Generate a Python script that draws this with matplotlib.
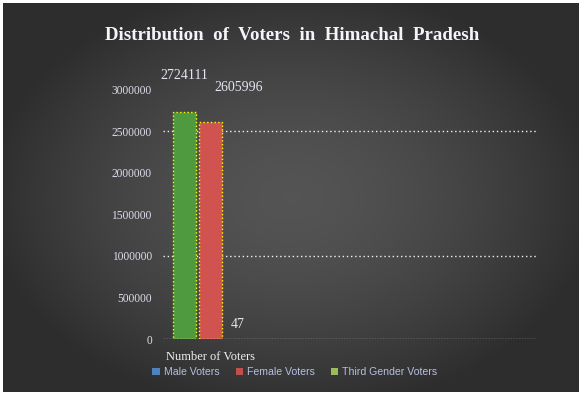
import numpy as np
import matplotlib
matplotlib.use("Agg")
import matplotlib.pyplot as plt
from matplotlib.patches import Patch

# ── Data ──────────────────────────────────────────────────────────────────────
category = ["Number of Voters"]
series = ["Male Voters", "Female Voters", "Third Gender Voters"]
values = [2724111, 2605996, 47]
yticks = [0, 500000, 1000000, 1500000, 2000000, 2500000, 3000000]

bar_colors = ["#4f9a3f", "#d0534f", "#9bbb59"]
legend_colors = ["#4f81bd", "#c0504d", "#9bbb59"]

W, H = 585, 396
fig = plt.figure(figsize=(W / 100, H / 100), dpi=100)
fig.patch.set_facecolor("white")

# ── Background (dark radial gradient) ───────────────────────────────────────
bg = fig.add_axes([3 / W, 1 - 392 / H, 576 / W, 389 / H])
gx, gy = np.meshgrid(np.linspace(-1, 1, 300), np.linspace(-1, 1, 200))
r = np.clip(np.sqrt((gx / 1.05) ** 2 + (gy / 1.1) ** 2), 0, 1)
shade = 0.33 - 0.15 * r ** 1.6
bg.imshow(np.dstack([shade, shade, shade]), aspect="auto", extent=[0, 1, 0, 1])
bg.set_axis_off()

# ── Plot area ─────────────────────────────────────────────────────────────────
ax = fig.add_axes([163 / W, 1 - 339 / H, 373 / W, (339 - 89.4) / H])
ax.set_facecolor("none")

w = 0.2
offsets = [-0.23, 0.0, 0.23]
x0 = 0
for i, v in enumerate(values):
    edge = "#ffff00" if v > 1000 else "none"
    ax.bar(x0 + offsets[i], v, width=w, color=bar_colors[i],
           edgecolor=edge, linestyle=":", linewidth=1.0, zorder=3)

# value labels
label_offsets = [(0, 22), (20, 20), (0, 6)]
for i, v in enumerate(values):
    ax.annotate(str(v), xy=(x0 + offsets[i], v), xytext=label_offsets[i],
                textcoords="offset points", ha="center", va="bottom",
                fontsize=10, family="Liberation Serif", color="#e4e4f2",
                annotation_clip=False)

ax.set_xlim(-0.417, 2.826)
ax.set_ylim(0, 3000000)
ax.set_yticks(yticks)
ax.set_yticklabels([str(t) for t in yticks], family="Liberation Serif",
                   fontsize=8.3, color="#dcdcea")
ax.set_xticks([x0])
ax.set_xticklabels(category, family="Liberation Serif", fontsize=9,
                   color="#f0f0f0")
ax.tick_params(axis="both", length=0)
ax.tick_params(axis="y", pad=8)
ax.tick_params(axis="x", pad=9)
for s in ax.spines.values():
    s.set_visible(False)

for g in [1000000, 2500000]:
    ax.axhline(g, color="#f2f2f2", linestyle=(0, (1, 2)), linewidth=1.0, zorder=1)
ax.axhline(0, color="#d8d8d8", linestyle=(0, (1, 1)), linewidth=1.0, zorder=4)

# ── Title ─────────────────────────────────────────────────────────────────────
fig.text(292 / W, 1 - 36 / H, "Distribution  of  Voters  in  Himachal  Pradesh",
         ha="center", va="center", fontsize=13.6, fontweight="bold",
         family="Liberation Serif", color="#f4f4fa")

# ── Legend ────────────────────────────────────────────────────────────────────
handles = [Patch(facecolor=c, edgecolor="none") for c in legend_colors]
fig.legend(handles, series, loc="center", bbox_to_anchor=(295 / W, 1 - 372 / H),
           ncol=3, frameon=False, handlelength=0.7,
           handleheight=0.7, handletextpad=0.4, columnspacing=1.5,
           labelcolor="#b4c0e0", prop={"family": "Liberation Sans", "size": 7.6})

fig.savefig("out.png", dpi=100, facecolor=fig.get_facecolor())
